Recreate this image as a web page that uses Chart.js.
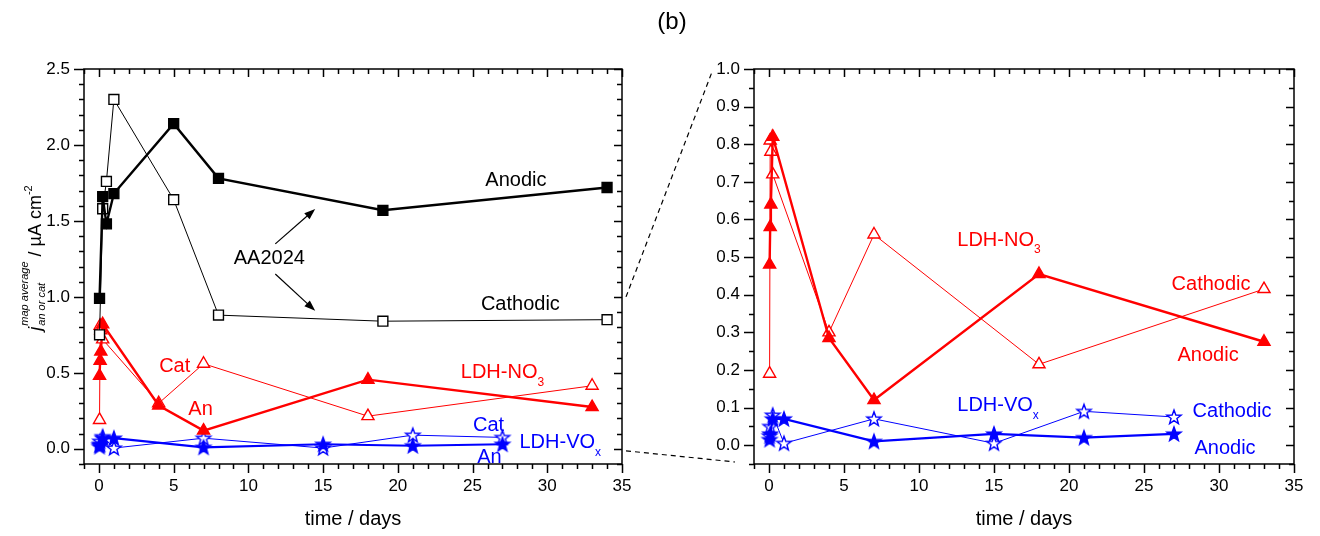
<!DOCTYPE html>
<html><head>
<meta charset="UTF-8">
<title>j map average vs time</title>
<script src="https://cdn.jsdelivr.net/npm/chart.js"></script>
<style>
  body { margin: 0; background: #fff; width: 1320px; height: 536px; overflow: hidden; position: relative; }
  canvas { position: absolute; top: 0; }
</style>
</head>
<body>
<canvas id="leftChart" width="660" height="536" style="left:0"></canvas>
<canvas id="rightChart" width="650" height="536" style="left:670px"></canvas>
<canvas id="overlay" width="1320" height="536" style="left:0;pointer-events:none"></canvas>
<script>
const FONT = '"Liberation Sans", Arial, sans-serif';
const RED = '#ff0000', BLUE = '#0000ff';

// AA2024
const tAA = [0.04, 0.25, 0.5, 1, 5, 8, 19, 34];
const aaAnodic = [0.99, 1.66, 1.48, 1.68, 2.14, 1.78, 1.57, 1.72];
const aaCathodic = [0.75, 1.58, 1.76, 2.30, 1.64, 0.88, 0.84, 0.85];

// LDH-NO3
const tNO3 = [0.04, 0.08, 0.125, 0.25, 4, 7, 18, 33];
const no3Anodic = [0.48, 0.58, 0.64, 0.82, 0.285, 0.12, 0.455, 0.275];
const no3Cathodic = [0.19, 0.81, 0.78, 0.72, 0.30, 0.56, 0.215, 0.415];

// LDH-VOx
const tVO = [0.04, 0.08, 0.25, 1, 7, 15, 21, 27];
const voAnodic = [0.015, 0.03, 0.07, 0.07, 0.01, 0.03, 0.02, 0.03];
const voCathodic = [0.025, 0.05, 0.08, 0.005, 0.07, 0.005, 0.09, 0.075];

// tick labels
const xMajor = [0, 5, 10, 15, 20, 25, 30, 35];
const yLeftMajor = [0.0, 0.5, 1.0, 1.5, 2.0, 2.5];
const yRightMajor = [0.0, 0.1, 0.2, 0.3, 0.4, 0.5, 0.6, 0.7, 0.8, 0.9, 1.0];

const pts = (xs, ys) => xs.map((x, i) => ({x: x, y: ys[i]}));
const isIn = (list, v) => list.some(m => Math.abs(m - v) < 1e-6);

function starImage(filled) {
  const c = document.createElement('canvas');
  c.width = 20; c.height = 20;
  const g = c.getContext('2d');
  g.beginPath();
  for (let i = 0; i < 10; i++) {
    const r = i % 2 === 0 ? 7.5 : 3.1;
    const a = -Math.PI / 2 + i * Math.PI / 5;
    const px = 10 + r * Math.cos(a), py = 10.5 + r * Math.sin(a);
    i === 0 ? g.moveTo(px, py) : g.lineTo(px, py);
  }
  g.closePath();
  g.fillStyle = filled ? BLUE : '#fff';
  g.fill();
  g.strokeStyle = BLUE; g.lineWidth = 1.4;
  g.stroke();
  return c;
}
const starFilled = starImage(true), starOpen = starImage(false);

function line(data, color, width, style, fill, radius) {
  return {
    data: data, borderColor: color, borderWidth: width, tension: 0,
    pointStyle: style, pointRadius: radius, pointHoverRadius: radius,
    pointBackgroundColor: fill, pointBorderColor: color, pointBorderWidth: 1.4
  };
}

function drawRich(ctx, parts, x, y, size, color) {
  ctx.save();
  ctx.fillStyle = color; ctx.textBaseline = 'alphabetic'; ctx.textAlign = 'left';
  const small = Math.round(size * 0.62);
  const widths = parts.map(([t, k]) => { ctx.font = (k ? small : size) + 'px ' + FONT; return ctx.measureText(t).width; });
  let cx = x - widths.reduce((a, b) => a + b, 0) / 2;
  const base = y + size * 0.36;
  parts.forEach(([t, k], i) => {
    ctx.font = (k ? small : size) + 'px ' + FONT;
    const dy = k === 'sub' ? size * 0.38 : 0;
    ctx.fillText(t, cx, base + dy);
    cx += widths[i];
  });
  ctx.restore();
}

function arrow(ctx, x1, y1, x2, y2) {
  const ang = Math.atan2(y2 - y1, x2 - x1), L = 11, W = 4;
  ctx.beginPath();
  ctx.moveTo(x1, y1);
  ctx.lineTo(x2 - L * 0.8 * Math.cos(ang), y2 - L * 0.8 * Math.sin(ang));
  ctx.stroke();
  ctx.beginPath();
  ctx.moveTo(x2, y2);
  ctx.lineTo(x2 - L * Math.cos(ang) + W * Math.sin(ang), y2 - L * Math.sin(ang) - W * Math.cos(ang));
  ctx.lineTo(x2 - L * Math.cos(ang) - W * Math.sin(ang), y2 - L * Math.sin(ang) + W * Math.cos(ang));
  ctx.closePath();
  ctx.fill();
}

function drawYTitle(ctx, cx, cy) {
  ctx.save();
  ctx.translate(cx, cy); ctx.rotate(-Math.PI / 2);
  ctx.fillStyle = '#000'; ctx.textBaseline = 'alphabetic'; ctx.textAlign = 'left';
  const big = 18, small = 11;
  const fI = s => 'italic ' + s + 'px ' + FONT, fN = s => s + 'px ' + FONT;
  ctx.font = fI(big); const wj = ctx.measureText('j').width;
  ctx.font = fI(small);
  const wsup = ctx.measureText('map average').width, wsub = ctx.measureText('an or cat').width;
  ctx.font = fN(big); const wmain = ctx.measureText(' / µA cm').width;
  ctx.font = fN(small); const wexp = ctx.measureText('-2').width;
  let x = -(wj + 1 + Math.max(wsup, wsub) + wmain + wexp) / 2;
  ctx.font = fI(big); ctx.fillText('j', x, 0); x += wj + 1;
  ctx.font = fI(small); ctx.fillText('map average', x, -13); ctx.fillText('an or cat', x, 4);
  x += Math.max(wsup, wsub);
  ctx.font = fN(big); ctx.fillText(' / µA cm', x, 0); x += wmain;
  ctx.font = fN(small); ctx.fillText('-2', x, -9);
  ctx.restore();
}

function framePlugin(yMajor, labels, arrows, yTitle) {
  return {
    id: 'frame',
    afterDraw(chart) {
      const {ctx, chartArea: a, scales: {x, y}} = chart;
      ctx.save();
      ctx.strokeStyle = '#000'; ctx.fillStyle = '#000'; ctx.lineWidth = 1.5;
      ctx.strokeRect(a.left, a.top, a.right - a.left, a.bottom - a.top);
      ctx.beginPath();
      x.ticks.forEach(t => {
        const px = Math.round(x.getPixelForValue(t.value)) + 0.5;
        const major = isIn(xMajor, t.value);
        ctx.moveTo(px, a.bottom); ctx.lineTo(px, a.bottom + (major ? 9 : 5));
        ctx.moveTo(px, a.top); ctx.lineTo(px, a.top + (major ? 8 : 5));
      });
      y.ticks.forEach(t => {
        const py = Math.round(y.getPixelForValue(t.value)) + 0.5;
        const major = isIn(yMajor, t.value);
        ctx.moveTo(a.left, py); ctx.lineTo(a.left - (major ? 10 : 5), py);
        ctx.moveTo(a.right, py); ctx.lineTo(a.right - (major ? 8 : 5), py);
      });
      ctx.stroke();

      // axis titles
      ctx.font = '20px ' + FONT; ctx.textAlign = 'center'; ctx.textBaseline = 'alphabetic';
      ctx.fillText('time / days', (a.left + a.right) / 2, 525);
      if (yTitle) drawYTitle(ctx, 41, 258);

      labels.forEach(l => drawRich(ctx, l.parts, x.getPixelForValue(l.x), y.getPixelForValue(l.y), 20, l.color));
      ctx.lineWidth = 1.2;
      arrows.forEach(r => arrow(ctx, x.getPixelForValue(r[0]), y.getPixelForValue(r[1]),
                                     x.getPixelForValue(r[2]), y.getPixelForValue(r[3])));
      ctx.restore();
    }
  };
}

function makeChart(id, datasets, yMin, yMax, yStep, yMajor, rightPad, labels, arrows, yTitle) {
  return new Chart(document.getElementById(id), {
    type: 'line',
    data: {datasets: datasets},
    options: {
      responsive: false, animation: false,
      layout: {padding: {left: 0, right: rightPad, top: 69, bottom: 0}},
      plugins: {legend: {display: false}, tooltip: {enabled: false}},
      scales: {
        x: {
          type: 'linear', min: -1, max: 35,
          grid: {display: false, tickLength: 9}, border: {display: false},
          afterFit: s => { s.height = 72; },
          ticks: {stepSize: 1, autoSkip: false, maxRotation: 0, padding: 3, color: '#000',
                  font: {family: FONT, size: 17},
                  callback: v => isIn(xMajor, v) ? String(Math.round(v)) : ''}
        },
        y: {
          type: 'linear', min: yMin, max: yMax,
          grid: {display: false, tickLength: 10}, border: {display: false},
          afterFit: s => { s.width = 84; },
          ticks: {stepSize: yStep, autoSkip: false, padding: 4, color: '#000',
                  font: {family: FONT, size: 17},
                  callback: v => isIn(yMajor, v) ? v.toFixed(1) : ''}
        }
      }
    },
    plugins: [framePlugin(yMajor, labels, arrows, yTitle)]
  });
}

const ldhSets = () => [
  line(pts(tNO3, no3Anodic), RED, 2.4, 'triangle', RED, 7),
  line(pts(tNO3, no3Cathodic), RED, 1, 'triangle', '#fff', 7),
  line(pts(tVO, voAnodic), BLUE, 2.2, starFilled, BLUE, 8),
  line(pts(tVO, voCathodic), BLUE, 1, starOpen, '#fff', 8)
];

const leftLabels = [
  {parts: [['Anodic']], x: 27.9, y: 1.78, color: '#000'},
  {parts: [['Cathodic']], x: 28.2, y: 0.96, color: '#000'},
  {parts: [['AA2024']], x: 11.4, y: 1.263, color: '#000'},
  {parts: [['Cat']], x: 5.07, y: 0.553, color: RED},
  {parts: [['An']], x: 6.8, y: 0.27, color: RED},
  {parts: [['LDH-NO'], ['3', 'sub']], x: 27.0, y: 0.513, color: RED},
  {parts: [['Cat']], x: 26.07, y: 0.164, color: BLUE},
  {parts: [['LDH-VO'], ['x', 'sub']], x: 30.87, y: 0.053, color: BLUE},
  {parts: [['An']], x: 26.13, y: -0.046, color: BLUE}
];
const leftArrows = [[11.8, 1.349, 14.47, 1.579], [11.8, 1.151, 14.47, 0.908]];

const rightLabels = [
  {parts: [['LDH-NO'], ['3', 'sub']], x: 15.33, y: 0.549, color: RED},
  {parts: [['Cathodic']], x: 29.47, y: 0.432, color: RED},
  {parts: [['Anodic']], x: 29.27, y: 0.244, color: RED},
  {parts: [['LDH-VO'], ['x', 'sub']], x: 15.27, y: 0.109, color: BLUE},
  {parts: [['Cathodic']], x: 30.87, y: 0.095, color: BLUE},
  {parts: [['Anodic']], x: 30.4, y: -0.003, color: BLUE}
];

const leftChart = makeChart('leftChart', [
  line(pts(tAA, aaAnodic), '#000', 2.4, 'rect', '#000', 7),
  line(pts(tAA, aaCathodic), '#000', 1, 'rect', '#fff', 7)
].concat(ldhSets()), -0.1, 2.5, 0.1, yLeftMajor, 38, leftLabels, leftArrows, true);

const rightChart = makeChart('rightChart', ldhSets(), -0.05, 1.0, 0.05, yRightMajor, 26, rightLabels, [], false);

// overlay: title and zoom connector lines
(function () {
  const ctx = document.getElementById('overlay').getContext('2d');
  const off = 670;
  const la = leftChart.chartArea, ra = rightChart.chartArea;
  const ly = leftChart.scales.y, ry = rightChart.scales.y;
  ctx.fillStyle = '#000';
  ctx.font = '24px ' + FONT; ctx.textAlign = 'center'; ctx.textBaseline = 'middle';
  ctx.fillText('(b)', 672, 22);
  ctx.strokeStyle = '#000'; ctx.lineWidth = 1.2; ctx.setLineDash([5, 4]);
  ctx.beginPath();
  ctx.moveTo(la.right + 4, ly.getPixelForValue(1.0));
  ctx.lineTo(off + ra.left - 42, ry.getPixelForValue(1.0) + 3);
  ctx.moveTo(la.right + 4, ly.getPixelForValue(0.0) + 2);
  ctx.lineTo(off + ra.left - 19, ra.bottom - 2);
  ctx.stroke();
})();
</script>
</body></html>
